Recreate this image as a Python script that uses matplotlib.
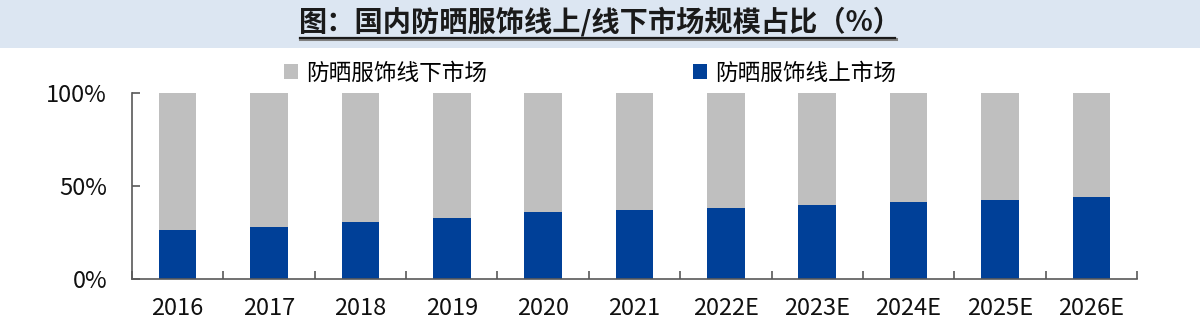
import matplotlib.pyplot as plt
from matplotlib.patches import Rectangle
from matplotlib.lines import Line2D

plt.rcParams['font.family'] = ['Noto Sans CJK SC', 'DejaVu Sans']

# 国内防晒服饰线上/线下市场规模占比（%）
years = ['2016', '2017', '2018', '2019', '2020', '2021',
         '2022E', '2023E', '2024E', '2025E', '2026E']
online = [26.3, 28.3, 30.8, 32.8, 36.2, 37.5, 38.6, 40.2, 41.6, 42.7, 44.0]
offline = [100 - v for v in online]

blue = '#004098'
grey = '#BFBFBF'
axis_col = '#595959'

fig = plt.figure(figsize=(12, 3.27), dpi=100)

# title band
fig.patches.append(Rectangle((0, 1 - 48 / 327), 1, 48 / 327, transform=fig.transFigure,
                             facecolor='#DCE6F2', edgecolor='none', zorder=0))
title = '图：国内防晒服饰线上/线下市场规模占比（%）'
fig.text(0.5, 1 - 22 / 327, title, ha='center', va='center',
         fontsize=20.3, fontweight='bold', color='#1a1a1a')
fig.add_artist(Line2D([300 / 1200, 896 / 1200], [1 - 38.5 / 327] * 2,
                      transform=fig.transFigure, color='#7f7f7f', lw=2.2))
fig.add_artist(Line2D([300 / 1200, 895 / 1200], [1 - 37.5 / 327] * 2,
                      transform=fig.transFigure, color='#1a1a1a', lw=1.6))

ax = fig.add_axes([132 / 1200, 1 - 279.3 / 327, (1137 - 132) / 1200, 186 / 327])
x = list(range(len(years)))
ax.bar(x, online, width=0.41, color=blue, label='防晒服饰线上市场', zorder=2)
ax.bar(x, offline, width=0.41, bottom=online, color=grey, label='防晒服饰线下市场', zorder=2)

ax.set_xlim(-0.5, len(years) - 0.5)
ax.set_ylim(0, 100)
ax.set_yticks([0, 50, 100])
ax.set_yticklabels(['0%', '50%', '100%'])
ax.set_xticks(x)
ax.set_xticklabels(years)
ax.set_xticks([i - 0.5 for i in range(len(years) + 1)], minor=True)

for s in ['top', 'right']:
    ax.spines[s].set_visible(False)
for s in ['left', 'bottom']:
    ax.spines[s].set_color(axis_col)
    ax.spines[s].set_linewidth(1.2)

ax.tick_params(axis='y', direction='in', length=6, width=1.2, color=axis_col,
               labelsize=17, pad=18, labelcolor='#111111')
ax.tick_params(axis='x', which='major', length=0, labelsize=17, pad=13,
               labelcolor='#111111')
ax.tick_params(axis='x', which='minor', direction='in', length=6, width=1.2,
               color=axis_col)

handles, labels = ax.get_legend_handles_labels()
fig.legend(handles[::-1], labels[::-1], loc='center', ncol=2,
           bbox_to_anchor=(590 / 1200, 1 - 73 / 327), frameon=False,
           fontsize=16.3, handlelength=0.62, handleheight=0.62,
           handletextpad=0.35, columnspacing=9.1)

fig.savefig('out.png', dpi=100)
